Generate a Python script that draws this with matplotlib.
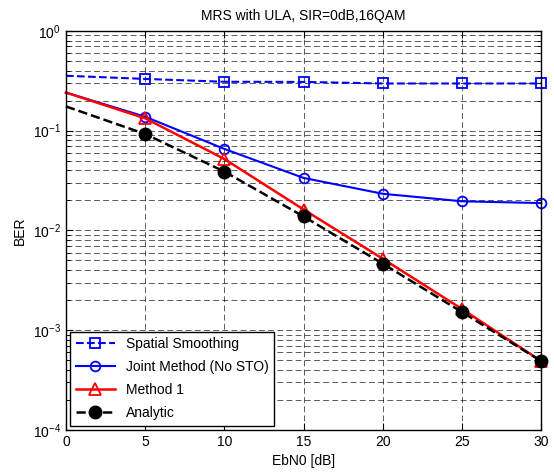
import numpy as np
import matplotlib
matplotlib.use('Agg')
import matplotlib.pyplot as plt
from matplotlib.ticker import LogLocator, NullFormatter

plt.rcParams['font.family'] = ['Liberation Sans', 'DejaVu Sans']

ebn0 = [0, 5, 10, 15, 20, 25, 30]
ber_spatial = [0.355, 0.33, 0.309, 0.308, 0.297, 0.297, 0.297]
ber_joint = [0.241, 0.138, 0.0656, 0.0336, 0.0233, 0.0196, 0.0188]
ber_method1 = [0.241, 0.133, 0.052, 0.0162, 0.0052, 0.00163, 0.00049]
ber_analytic = [0.175, 0.0926, 0.0389, 0.0138, 0.00464, 0.00152, 0.00049]

fig = plt.figure(figsize=(5.54, 4.75), dpi=100)
ax = fig.add_axes([0.119, 0.0947, 0.858, 0.8403])

mk = slice(1, None)
ax.semilogy(ebn0, ber_spatial, '--s', color='blue', lw=1.5, ms=7, markevery=mk,
            mfc='none', mec='blue', mew=1.3, label='Spatial Smoothing', clip_on=False)
ax.semilogy(ebn0, ber_joint, '-o', color='blue', lw=1.5, ms=7, markevery=mk,
            mfc='none', mec='blue', mew=1.3, label='Joint Method (No STO)', clip_on=False)
ax.semilogy(ebn0, ber_method1, '-^', color='red', lw=1.8, ms=8, markevery=mk,
            mfc='none', mec='red', mew=1.3, label='Method 1', clip_on=False)
ax.semilogy(ebn0, ber_analytic, '--o', color='black', lw=1.8, ms=9, markevery=mk,
            mfc='black', mec='black', label='Analytic', clip_on=False)

ax.set_xlim(0, 30)
ax.set_ylim(1e-4, 1)
ax.set_xticks([0, 5, 10, 15, 20, 25, 30])
ax.yaxis.set_major_locator(LogLocator(base=10, numticks=10))
ax.yaxis.set_minor_locator(LogLocator(base=10, subs=np.arange(2, 10), numticks=10))
ax.yaxis.set_minor_formatter(NullFormatter())

ax.grid(True, which='major', axis='both', ls=(0, (7, 4)), color='black', lw=0.6, alpha=0.75)
ax.grid(True, which='minor', axis='y', ls=(0, (7, 4)), color='black', lw=0.6, alpha=0.75)

ax.tick_params(which='both', direction='in', top=True, right=True, labelsize=10)
ax.tick_params(which='major', length=5)
ax.tick_params(which='minor', length=3)
for s in ax.spines.values():
    s.set_linewidth(1.0)
    s.set_zorder(3)

ax.set_title('MRS with ULA, SIR=0dB,16QAM', fontsize=10, pad=8)
ax.set_xlabel('EbN0 [dB]', fontsize=10)
ax.set_ylabel('BER', fontsize=10)

leg = ax.legend(loc='lower left', fontsize=10, fancybox=False, framealpha=1,
                edgecolor='black', borderaxespad=0.3, handlelength=2.8,
                labelspacing=0.65)
leg.get_frame().set_linewidth(1.0)
leg.set_zorder(5)

fig.savefig('out.png', dpi=100)
